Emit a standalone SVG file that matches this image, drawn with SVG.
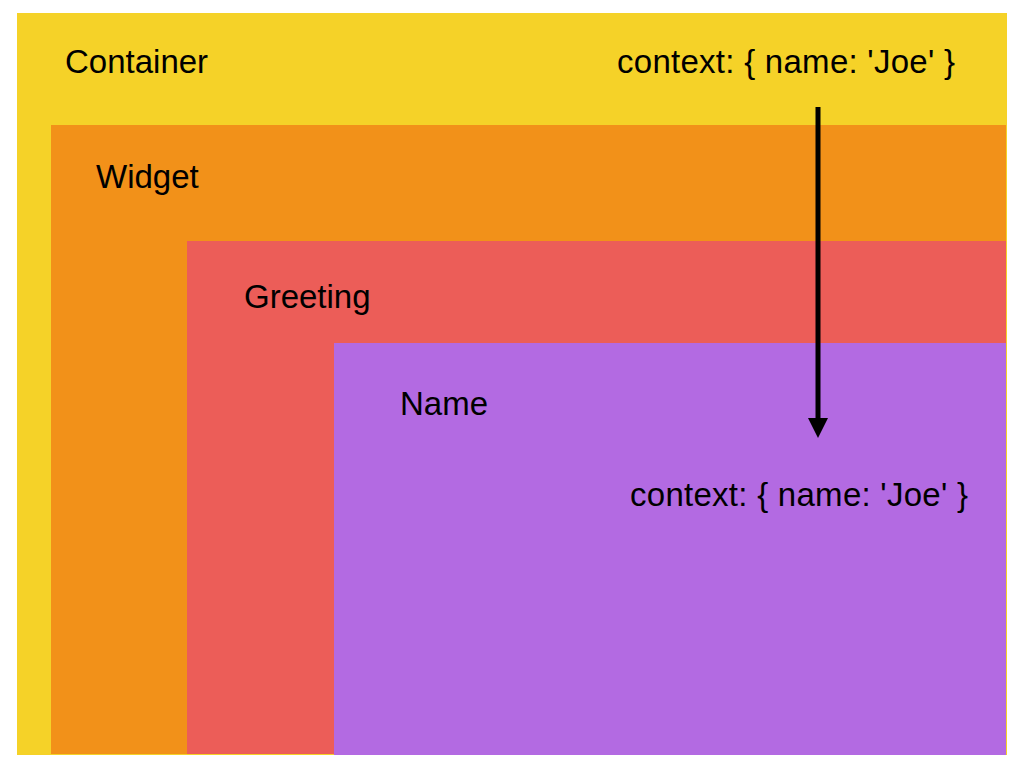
<svg xmlns="http://www.w3.org/2000/svg" width="1024" height="768" viewBox="0 0 1024 768">
<style>
text{font-family:"Liberation Sans",Arial,sans-serif;font-size:33px;fill:#000}
</style>
<defs>
<marker id="ah" markerWidth="20" markerHeight="20" refX="0" refY="10" orient="auto" markerUnits="userSpaceOnUse" viewBox="0 0 20 20">
<path d="M0,0 L20,10 L0,20 Z" fill="#000"/>
</marker>
</defs>
<rect width="1024" height="768" fill="#fff"/>
<g id="container">
<rect x="17" y="13" width="990" height="742" fill="#F5D228"/>
<text x="65" y="73">Container</text>
<text x="617" y="73" textLength="338" lengthAdjust="spacing">context: { name: 'Joe' }</text>
</g>
<g id="widget">
<rect x="51" y="125" width="955" height="629" fill="#F29119"/>
<text x="96" y="188">Widget</text>
</g>
<g id="greeting">
<rect x="187" y="241" width="819" height="513" fill="#EC5D58"/>
<text x="244" y="308">Greeting</text>
</g>
<g id="name">
<rect x="334" y="343" width="672" height="412" fill="#B36AE2"/>
<text x="400" y="415">Name</text>
<text x="630" y="506" textLength="338" lengthAdjust="spacing">context: { name: 'Joe' }</text>
</g>
<g id="connectors">
<line x1="818" y1="107" x2="818" y2="418" stroke="#000" stroke-width="5" marker-end="url(#ah)"/>
</g>
</svg>
